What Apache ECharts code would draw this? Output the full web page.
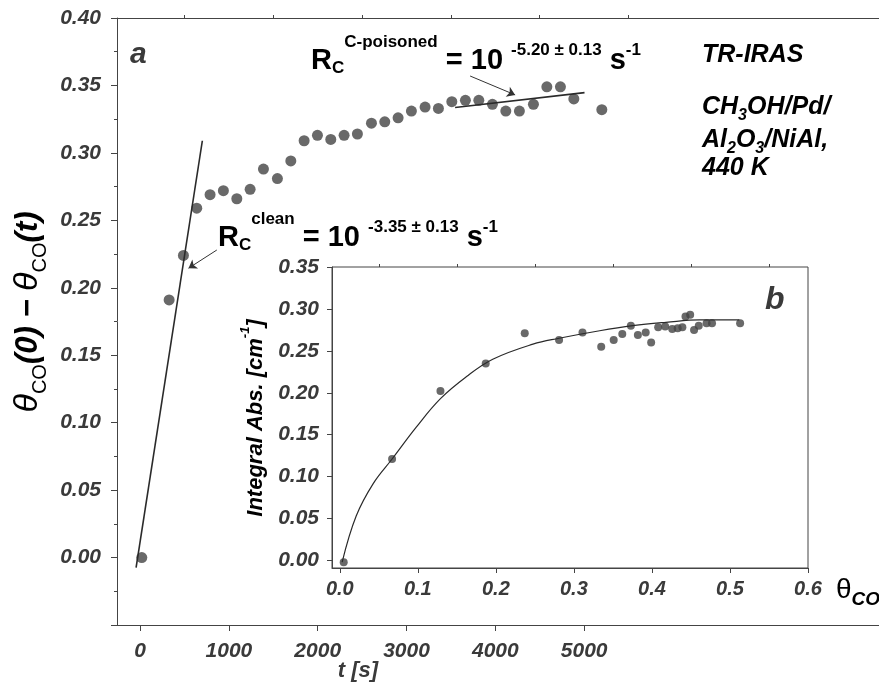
<!DOCTYPE html>
<html>
<head>
<meta charset="utf-8">
<script src="https://cdn.jsdelivr.net/npm/echarts@6/dist/echarts.min.js"></script>
<style>
  html, body { margin: 0; padding: 0; background: #fff; }
  #chart { width: 879px; height: 686px; }
</style>
</head>
<body>
<div id="chart"></div>
<script>
// main panel (a): t [s] vs theta_CO(0) - theta_CO(t)
const mainT = [19, 327, 488, 638, 788, 938, 1089, 1239, 1389, 1546, 1697, 1847, 1997, 2147, 2297, 2447, 2605, 2755, 2905, 3055, 3209, 3359, 3510, 3663, 3814, 3967, 4118, 4271, 4429, 4580, 4733, 4884, 5199]
const mainY = [0.000, 0.191, 0.224, 0.259, 0.269, 0.272, 0.266, 0.273, 0.288, 0.281, 0.294, 0.309, 0.313, 0.310, 0.313, 0.314, 0.322, 0.323, 0.326, 0.331, 0.334, 0.333, 0.338, 0.339, 0.339, 0.336, 0.331, 0.331, 0.336, 0.349, 0.349, 0.340, 0.332]
const cleanFitT = [-45, 701]
const cleanFitY = [-0.0074, 0.309]
const poisonFitT = [3547, 5004]
const poisonFitY = [0.3336, 0.3447]
const cleanArrow = [[864, 0.228], [545, 0.2145]]
const poisonArrow = [[3716, 0.357], [4223, 0.343]]
const mainXTicks = [0, 1000, 2000, 3000, 4000, 5000]
const mainXMinor = [500, 1500, 2500, 3500, 4500, 5500]

// inset (b): theta_CO vs integral absorbance
const insetX = [0.005, 0.067, 0.129, 0.187, 0.237, 0.281, 0.311, 0.335, 0.351, 0.362, 0.373, 0.382, 0.392, 0.399, 0.408, 0.417, 0.426, 0.433, 0.439, 0.443, 0.449, 0.454, 0.460, 0.470, 0.477, 0.513]
const insetY = [-0.002, 0.121, 0.202, 0.235, 0.271, 0.263, 0.272, 0.255, 0.263, 0.270, 0.280, 0.269, 0.272, 0.260, 0.278, 0.279, 0.276, 0.277, 0.278, 0.291, 0.293, 0.275, 0.280, 0.283, 0.283, 0.283]
const curveX = [0.003, 0.021, 0.043, 0.067, 0.098, 0.129, 0.162, 0.196, 0.2475, 0.281, 0.333, 0.3755, 0.418, 0.461, 0.512]
const curveY = [-0.002, 0.053, 0.092, 0.121, 0.159, 0.193, 0.219, 0.240, 0.258, 0.265, 0.274, 0.280, 0.284, 0.287, 0.287]
const insetXTicks = [0, 0.1, 0.2, 0.3, 0.4, 0.5, 0.6]
const insetXMinor = [0.05, 0.15, 0.25, 0.35, 0.45, 0.55]
const insetYTicks = [0, 0.05, 0.1, 0.15, 0.2, 0.25, 0.3, 0.35]

const zip = (a, b) => a.map((v, i) => [v, b[i]])
const FONT = 'Liberation Sans'
const INK = '#3a3a3a'
const axisLine = { onZero: false, lineStyle: { color: '#444', width: 1 } }
const tickLabel = { color: INK, fontFamily: FONT, fontSize: 21, fontStyle: 'italic', fontWeight: 'bold' }

// rich styles for formula text
const formulaRich = {
  m: { fontFamily: FONT, fontSize: 29, fontWeight: 'bold', color: INK, lineHeight: 29, verticalAlign: 'top', padding: [12, 0, 0, 0] },
  sup: { fontFamily: FONT, fontSize: 17, fontWeight: 'bold', color: INK, lineHeight: 17, verticalAlign: 'top' },
  exp: { fontFamily: FONT, fontSize: 17, fontWeight: 'bold', color: INK, lineHeight: 17, verticalAlign: 'top', padding: [8, 0, 0, 0] },
  sub: { fontFamily: FONT, fontSize: 17, fontWeight: 'bold', color: INK, lineHeight: 17, verticalAlign: 'top', padding: [26, 0, 0, 0] }
}
const blockRich = {
  m: { fontFamily: FONT, fontSize: 25, fontWeight: 'bold', fontStyle: 'italic', color: INK, lineHeight: 25, verticalAlign: 'top' },
  sub: { fontFamily: FONT, fontSize: 16, fontWeight: 'bold', fontStyle: 'italic', color: INK, lineHeight: 16, verticalAlign: 'top', padding: [13, 0, 0, 0] }
}

const chart = echarts.init(document.getElementById('chart'))

chart.setOption({
  animation: false,
  grid: [
    { left: 117, top: 18, right: 0, bottom: 61, containLabel: false, outerBoundsMode: 'none' },
    { left: 332, top: 267, width: 476, height: 301, containLabel: false, outerBoundsMode: 'none',
      show: true, backgroundColor: '#fff', borderColor: '#444', borderWidth: 1 }
  ],
  xAxis: [
    { gridIndex: 0, type: 'value', min: -260, max: 8320, axisLine: axisLine, splitLine: { show: false },
      axisTick: { show: true, length: 6, lineStyle: { color: '#444' }, customValues: mainXTicks },
      axisLabel: Object.assign({ margin: 16, customValues: mainXTicks, formatter: v => String(v) }, tickLabel) },
    { gridIndex: 0, type: 'value', min: -260, max: 8320, axisLine: { show: false, onZero: false }, splitLine: { show: false },
      axisTick: { show: true, length: 3, lineStyle: { color: '#444' }, customValues: mainXMinor },
      axisLabel: { show: false } },
    { gridIndex: 0, type: 'value', position: 'top', min: -260, max: 8320, axisLine: axisLine,
      axisTick: { show: false }, axisLabel: { show: false }, splitLine: { show: false } },
    { gridIndex: 1, type: 'value', min: -0.01, max: 0.6, axisLine: axisLine, splitLine: { show: false },
      axisTick: { show: true, length: 5, lineStyle: { color: '#444' }, customValues: insetXTicks },
      axisLabel: Object.assign({ margin: 11, customValues: insetXTicks, formatter: v => v.toFixed(1) }, tickLabel, { fontSize: 20 }) },
    { gridIndex: 1, type: 'value', min: -0.01, max: 0.6, axisLine: { show: false, onZero: false }, splitLine: { show: false },
      axisTick: { show: true, length: 3, lineStyle: { color: '#444' }, customValues: insetXMinor },
      axisLabel: { show: false } }
  ],
  yAxis: [
    { gridIndex: 0, type: 'value', min: -0.05, max: 0.4, interval: 0.05, axisLine: Object.assign({ show: true }, axisLine),
      splitLine: { show: false },
      axisTick: { show: true, length: 6, lineStyle: { color: '#444' } },
      minorTick: { show: true, splitNumber: 2, length: 3, lineStyle: { color: '#444' } },
      axisLabel: Object.assign({ margin: 16, formatter: v => (v < -0.001 ? '' : v.toFixed(2)) }, tickLabel) },
    { gridIndex: 1, type: 'value', min: -0.009, max: 0.35, axisLine: Object.assign({ show: true }, axisLine),
      splitLine: { show: false },
      axisTick: { show: true, length: 5, lineStyle: { color: '#444' }, customValues: insetYTicks },
      axisLabel: Object.assign({ margin: 13, customValues: insetYTicks, formatter: v => v.toFixed(2) }, tickLabel) }
  ],
  series: [
    { type: 'scatter', xAxisIndex: 0, yAxisIndex: 0, data: zip(mainT, mainY),
      symbolSize: 11, itemStyle: { color: '#444' } },
    { type: 'line', xAxisIndex: 0, yAxisIndex: 0, data: zip(cleanFitT, cleanFitY), showSymbol: false,
      lineStyle: { color: '#2a2a2a', width: 1.6 },
      markLine: { silent: true, symbol: ['none', 'arrow'], symbolSize: 8, label: { show: false },
        lineStyle: { color: '#333', width: 1, type: 'solid' },
        data: [
          [{ coord: cleanArrow[0] }, { coord: cleanArrow[1] }],
          [{ coord: poisonArrow[0] }, { coord: poisonArrow[1] }]
        ] } },
    { type: 'line', xAxisIndex: 0, yAxisIndex: 0, data: zip(poisonFitT, poisonFitY), showSymbol: false,
      lineStyle: { color: '#2a2a2a', width: 1.6 } },
    { type: 'line', xAxisIndex: 3, yAxisIndex: 1, data: zip(curveX, curveY), showSymbol: false,
      smooth: 0.4, lineStyle: { color: '#2a2a2a', width: 1.2 } },
    { type: 'scatter', xAxisIndex: 3, yAxisIndex: 1, data: zip(insetX, insetY),
      symbolSize: 8, itemStyle: { color: '#444' } }
  ],
  graphic: [
    { type: 'text', x: 130, y: 40, style: { text: 'a', fontFamily: FONT, fontSize: 30, fontWeight: 'bold', fontStyle: 'italic', fill: INK } },
    { type: 'text', x: 765, y: 284, z: 10, style: { text: 'b', fontFamily: FONT, fontSize: 32, fontWeight: 'bold', fontStyle: 'italic', fill: INK } },
    { type: 'text', x: 311, y: 34, style: { text: '{m|R}{sub|C}{sup|C-poisoned}{m| = 10 }{exp|-5.20 ± 0.13}{m| s}{exp|-1}', rich: formulaRich } },
    { type: 'text', x: 218, y: 211, style: { text: '{m|R}{sub|C}{sup|clean}{m| = 10 }{exp|-3.35 ± 0.13}{m| s}{exp|-1}', rich: formulaRich } },
    { type: 'text', x: 702, y: 43, style: { text: '{m|TR-IRAS}', rich: blockRich } },
    { type: 'text', x: 702, y: 95, style: { text: '{m|CH}{sub|3}{m|OH/Pd/}', rich: blockRich } },
    { type: 'text', x: 702, y: 128, style: { text: '{m|Al}{sub|2}{m|O}{sub|3}{m|/NiAl,}', rich: blockRich } },
    { type: 'text', x: 702, y: 156, style: { text: '{m|440 K}', rich: blockRich } },
    { type: 'text', x: 358, y: 660, style: { text: 't [s]', align: 'center', fontFamily: FONT, fontSize: 22, fontWeight: 'bold', fontStyle: 'italic', fill: INK } },
    { type: 'text', x: 836, y: 576, z: 10, style: { text: '{t|θ}{s|CO}', rich: {
        t: { fontFamily: FONT, fontSize: 28, color: INK, lineHeight: 28, verticalAlign: 'top' },
        s: { fontFamily: FONT, fontSize: 19, fontWeight: 'bold', fontStyle: 'italic', color: INK, lineHeight: 19, verticalAlign: 'top', padding: [14, 0, 0, 0] }
      } } },
    { type: 'text', x: 28, y: 312, rotation: Math.PI / 2, style: { text: '{t|θ}{s|CO}{m|(0) − }{t|θ}{s|CO}{m|(t)}', align: 'center', verticalAlign: 'middle', rich: {
        t: { fontFamily: FONT, fontSize: 34, fontStyle: 'italic', color: INK, lineHeight: 34, verticalAlign: 'top' },
        m: { fontFamily: FONT, fontSize: 31, fontWeight: 'bold', fontStyle: 'italic', color: INK, lineHeight: 31, verticalAlign: 'top', padding: [2, 0, 0, 0] },
        s: { fontFamily: FONT, fontSize: 20, color: INK, lineHeight: 20, verticalAlign: 'top', padding: [19, 0, 0, 0] }
      } } },
    { type: 'text', x: 250, y: 418, rotation: Math.PI / 2, z: 10, style: { text: '{m|Integral Abs. [cm}{sup|-1}{m|]}', align: 'center', verticalAlign: 'middle', rich: {
        m: { fontFamily: FONT, fontSize: 22, fontWeight: 'bold', fontStyle: 'italic', color: INK, lineHeight: 22, verticalAlign: 'top', padding: [6, 0, 0, 0] },
        sup: { fontFamily: FONT, fontSize: 13, fontWeight: 'bold', fontStyle: 'italic', color: INK, lineHeight: 13, verticalAlign: 'top' }
      } } }
  ]
})
</script>
</body>
</html>
